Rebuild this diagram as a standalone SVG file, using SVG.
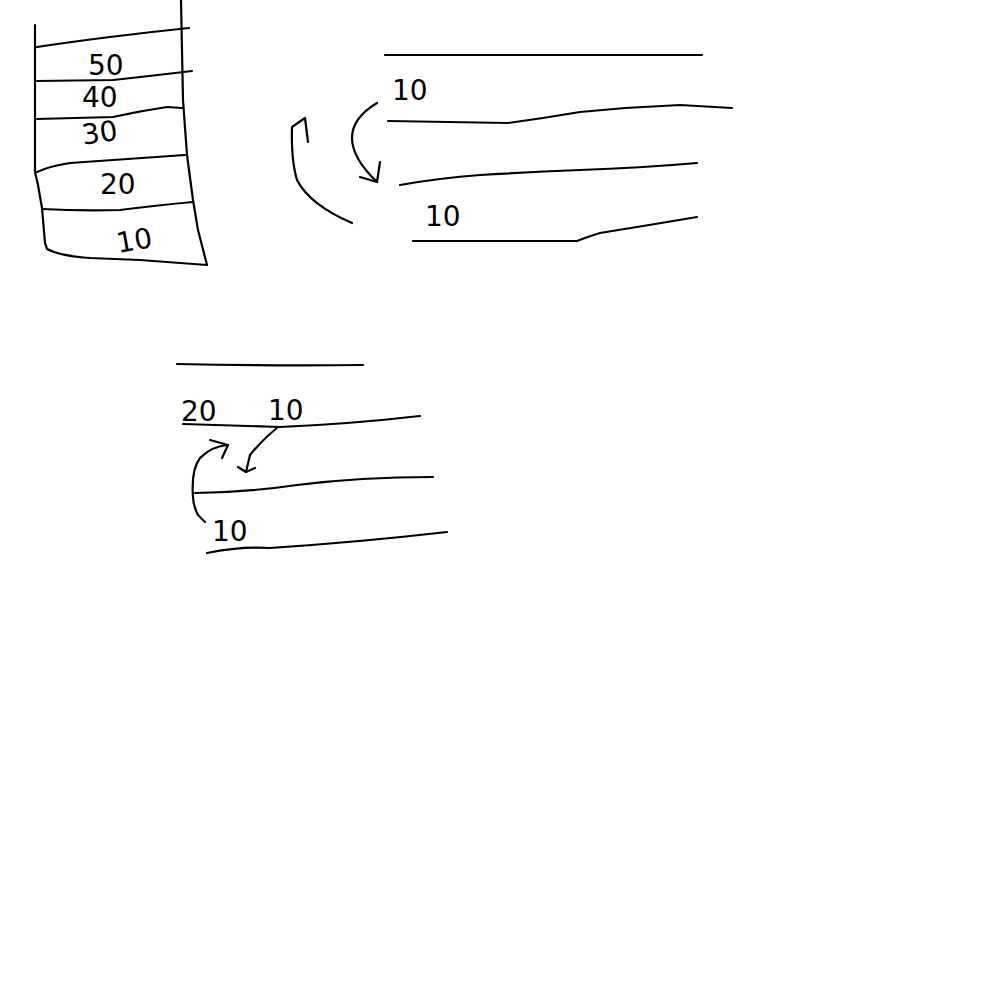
<svg xmlns="http://www.w3.org/2000/svg" width="1000" height="1000" viewBox="0 0 1000 1000">
<style>
.s{fill:none;stroke:#000;stroke-width:2.2;stroke-linecap:round;stroke-linejoin:round}
.t{font-family:"DejaVu Sans","Liberation Sans",sans-serif;font-size:28px;fill:#000}
</style>
<rect width="1000" height="1000" fill="#fff"/>
<g id="stack">
<path class="s" d="M35,25 L35,172 L38,185 L42,208 L45,243 L47,249 Q60,256 90,258 L140,260 L207,265"/>
<path class="s" d="M181,0 L182,50 L183,100 L187,155 L193,200 L198,230 L207,265"/>
<path class="s" d="M37,47 Q70,42 110,37 Q150,32 189,28"/>
<path class="s" d="M37,81 L113,80 Q150,76 192,71"/>
<path class="s" d="M37,119 L113,117 Q140,111 167,107 L182,108"/>
<path class="s" d="M37,172 Q50,166 70,163 Q130,159 185,155"/>
<path class="s" d="M42,209 Q80,211 120,210 Q160,205 193,202"/>
<text class="t" x="88" y="75">50</text>
<text class="t" x="82" y="107" font-size="24">40</text>
<text class="t" x="82" y="143" font-size="24" transform="rotate(-8 95 135)">30</text>
<text class="t" x="100" y="194">20</text>
<text class="t" x="116" y="250" transform="rotate(-10 135 238)">10</text>
</g>
<g id="middle">
<path class="s" d="M385,55 L702,55"/>
<path class="s" d="M388,121 L508,123 Q545,118 580,112 Q630,107 680,105 L732,108"/>
<path class="s" d="M400,185 Q440,178 480,175 Q530,172 580,170 Q640,168 697,163"/>
<path class="s" d="M413,241 L577,241 Q590,236 600,233 Q650,225 697,217"/>
<text class="t" x="392" y="100" font-size="30">10</text>
<text class="t" x="425" y="226" font-size="28">10</text>
<path class="s" d="M377,103 Q352,118 352,138 Q352,158 377,182"/>
<path class="s" d="M380,162 L377,182 L360,177"/>
<path class="s" d="M352,223 Q310,205 297,180 Q291,160 292,127 L305,118 L308,142"/>
</g>
<g id="bottom">
<path class="s" d="M177,364 Q270,366 363,365"/>
<path class="s" d="M183,424 L280,427 Q350,424 420,416"/>
<path class="s" d="M195,493 Q250,492 297,485 Q360,477 433,477"/>
<path class="s" d="M207,553 Q240,546 270,548 Q360,542 447,532"/>
<text class="t" x="181" y="421" font-size="30">20</text>
<text class="t" x="268" y="420" font-size="28">10</text>
<path class="s" d="M278,427 Q262,440 250,455 L246,472"/>
<path class="s" d="M238,467 L246,472 L255,468"/>
<path class="s" d="M205,522 L198,515 Q193,505 193,497 Q191,470 200,458 Q212,446 228,445"/>
<path class="s" d="M210,440 L228,445 L222,458"/>
<text class="t" x="212" y="541" font-size="24">10</text>
</g>
</svg>
